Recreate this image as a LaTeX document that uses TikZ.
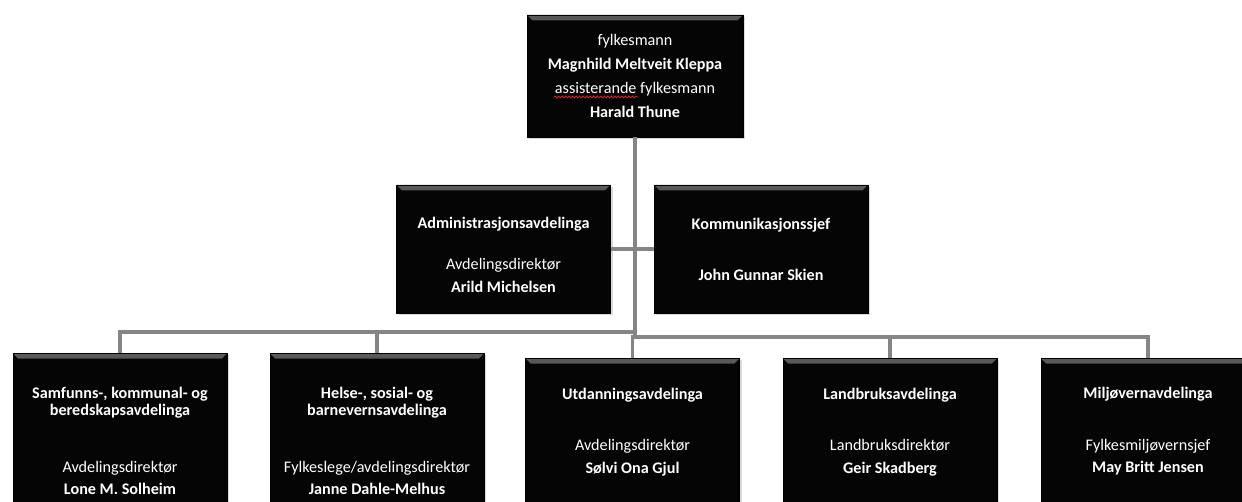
\documentclass[tikz,border=0pt]{standalone}
\usepackage{fontspec}
\setmainfont{Carlito}
\usepackage{tikz}
\usetikzlibrary{shadows,decorations.pathmorphing}
\definecolor{boxbg}{HTML}{050505}
\definecolor{bevel}{HTML}{5A5A5A}
\definecolor{wire}{HTML}{858585}
\definecolor{squig}{HTML}{E02020}
\newcommand{\upx}{0.02cm}
\tikzset{
  box/.style={fill=boxbg, draw=black, line width=0.3pt, inner sep=0pt,
    minimum width=214*\upx, minimum height=128*\upx,
    drop shadow={shadow xshift=1.2pt, shadow yshift=-1.2pt, opacity=0.3},
    path picture={\shade[top color=bevel, bottom color=boxbg]
      (path picture bounding box.north west) -- (path picture bounding box.north east)
      -- ([shift={(-3pt,-3pt)}]path picture bounding box.north east)
      -- ([shift={(3pt,-3pt)}]path picture bounding box.north west) -- cycle;}},
  lowbox/.style={box, anchor=north, minimum height=170*\upx},
  conn/.style={draw=wire, line width=1.8pt, line join=miter},
  txt/.style={text=white, align=center, inner sep=0pt, font=\fontsize{9.2}{12.8}\selectfont},
  head/.style={txt, font=\fontsize{9.2}{9.9}\selectfont\bfseries},
  toptxt/.style={txt, font=\fontsize{9.2}{13.6}\selectfont},
  squiggle/.style={draw=squig, line width=0.5pt,
    decorate, decoration={snake, amplitude=0.5pt, segment length=2pt}}
}

\begin{document}
\begin{tikzpicture}[x=0.02cm, y=-0.02cm]
  \useasboundingbox (0,0) rectangle (1242,502);
  % fylkesmann
  \node[box, minimum width=216*\upx, minimum height=122*\upx] (top) at (635,76) {};
  \node[toptxt] (top-t) at (top.center) {fylkesmann\\\textbf{Magnhild Meltveit Kleppa}\\assisterande fylkesmann\\\textbf{Harald Thune}};
  \draw[squiggle] (554,97) -- (638,97);
  % stab
  \node[box] (admin) at (503.5,249) {};
  \node[box] (komm) at (761,249) {};
  \node[head] (admin-h) at (503.5,224) {Administrasjonsavdelinga};
  \node[txt] (admin-b) at (503.5,275.5) {Avdelingsdirektør\\\textbf{Arild Michelsen}};
  \node[head] (komm-h) at (761,225) {Kommunikasjonssjef};
  \node[head] (komm-b) at (761,275) {John Gunnar Skien};
  % avdelingar
  \node[lowbox] (samf) at (120,353) {};
  \node[lowbox] (helse) at (377,353) {};
  \node[lowbox] (utd) at (632.5,358) {};
  \node[lowbox] (landbr) at (890,358) {};
  \node[lowbox] (milj) at (1148,358) {};
  \node[head] (samf-h) at (120,402.5) {Samfunns-, kommunal- og\\beredskapsavdelinga};
  \node[txt] (samf-b) at (120,478) {Avdelingsdirektør\\\textbf{Lone M. Solheim}};
  \node[head] (helse-h) at (377,402.5) {Helse-, sosial- og\\barnevernsavdelinga};
  \node[txt] (helse-b) at (377,478) {Fylkeslege/avdelingsdirektør\\\textbf{Janne Dahle-Melhus}};
  \node[head] (utd-h) at (632.5,395) {Utdanningsavdelinga};
  \node[txt] (utd-b) at (632.5,458) {Avdelingsdirektør\\\textbf{Sølvi Ona Gjul}};
  \node[head] (landbr-h) at (890,395) {Landbruksavdelinga};
  \node[txt] (landbr-b) at (890,458) {Landbruksdirektør\\\textbf{Geir Skadberg}};
  \node[head] (milj-h) at (1148,394) {Miljøvernavdelinga};
  \node[txt] (milj-b) at (1148,457) {Fylkesmiljøvernsjef\\\textbf{May Britt Jensen}};
  % linjer
  \coordinate (busL) at (634,332);
  \coordinate (busR) at (634,337);
  \draw[conn] (top.south) -- (top.south |- busR);
  \draw[conn] (admin.east) -- (komm.west);
  \draw[conn] (busL) -| (samf.north);
  \draw[conn] (busL) -| (helse.north);
  \draw[conn] (busR) -| (utd.north);
  \draw[conn] (busR) -| (landbr.north);
  \draw[conn] (busR) -| (milj.north);
\end{tikzpicture}
\end{document}
